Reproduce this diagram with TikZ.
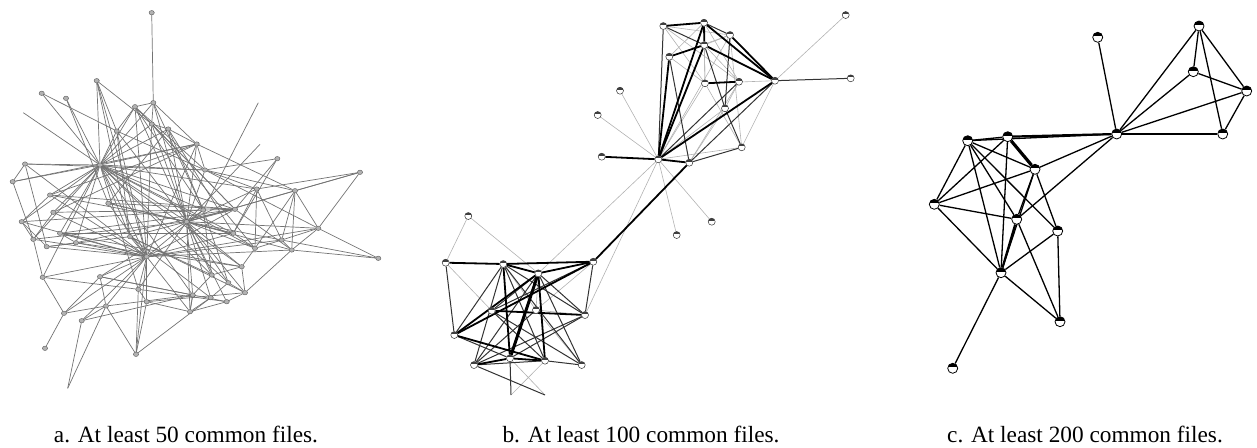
\documentclass[tikz,border=0pt]{standalone}
\usepackage{fontspec}
\setmainfont{Liberation Serif}
\pgfdeclarelayer{bg}
\pgfsetlayers{bg,main}
\tikzset{
  anode/.style={ellipse,inner sep=0pt,minimum width=5.2pt,minimum height=4.4pt,fill=gray!60,draw=black!65,line width=0.4pt},
  bnode/.style={circle,inner sep=0pt,minimum size=7pt,fill=white,draw=black!80,line width=0.5pt,
    path picture={\fill[black!75] (path picture bounding box.north west) rectangle ([yshift=1pt]path picture bounding box.east);}},
  cnode/.style={circle,inner sep=0pt,minimum size=10pt,fill=white,draw=black,line width=0.8pt,
    path picture={\fill[black] (path picture bounding box.north west) rectangle ([yshift=1.2pt]path picture bounding box.east);}},
  aedge/.style={draw=black!55,line width=0.7pt},
  bthin/.style={draw=gray!60,line width=0.6pt},
  bmed/.style={draw=black!80,line width=1pt},
  bthick/.style={draw=black,line width=1.8pt},
  cedge/.style={draw=black,line width=1.3pt},
  caption/.style={font=\fontsize{23.3}{28}\selectfont,anchor=base,inner sep=0pt}
}
\usetikzlibrary{shapes.geometric}
\begin{document}
\begin{tikzpicture}[x=1pt,y=-1pt]
\useasboundingbox (0,0) rectangle (1257,447);
% ---------------- panel a ----------------
\foreach \n/\x/\y in {a1/151.7/12.7,a2/96.7/80.7,a3/41.7/93.3,a4/66/98.3,a5/153.3/102.7,a6/135/106.7,
 a7/116.7/131,a8/151.7/124,a9/168.3/129,a10/196.7/144,a11/277.3/158.7,a12/360/172.3,a13/25/164,
 a14/12.7/181.7,a15/100/165,a16/205/170,a17/256.7/189,a18/295/190.7,a19/50/195,a20/108.3/203.3,
 a21/53.3/212.3,a22/21.7/221.7,a23/186.7/221.7,a24/203.3/210,a25/235/209.3,a26/318.3/228.3,
 a27/60/233.3,a28/33.3/239.3,a29/46.7/246.7,a30/76/242.7,a31/130/236.7,a32/281.7/240,a33/233.3/233.3,
 a34/146.7/256.7,a35/255/248.3,a36/291.7/250,a37/378.3/258.3,a38/241.7/266.7,a39/42.7/277.3,
 a40/100/276.7,a41/211.7/275,a42/228.3/282.7,a43/138.3/289.3,a44/192.7/295,a45/210.7/297.7,
 a46/226.7/301.7,a47/245/292.7,a48/146.7/301.7,a49/106/306,a50/64/313.3,a51/81.7/320.7,
 a52/190/311.7,a53/45/348.3,a54/136/354.3}
  \node[anode] (\n) at (\x,\y) {};
\coordinate (f1) at (23.3,112.7);
\coordinate (f2) at (258.3,102.7);
\coordinate (f3) at (260,144.3);
\coordinate (f4) at (67.7,388.3);
\begin{pgfonlayer}{bg}
\foreach \v in {a2,a3,a4,f1,a5,a6,a7,a8,a9,a10,a13,a14,a16,a17,a19,a21,a22,a23,a24,a25,a27,a28,a30,a31,a33,a34,a35,a38,a39,a41,a43,a44,a42}
  \draw[aedge] (a15) -- (\v);
\foreach \v in {a5,a6,a7,a8,a9,a10,a16,a17,f3,a18,a19,a20,a24,a25,a26,a31,a32,a33,a35,a36,a38,a40,a41,a42,a43,a44,a45,a46,a47,a52,a12,a28}
  \draw[aedge] (a23) -- (\v);
\foreach \v in {a6,a7,a8,a10,a13,a19,a20,a21,a22,a24,a25,a26,a27,a28,a29,a30,a31,a32,a33,a36,a39,a40,a43,a48,a49,a50,a51,a52,a54,a2}
  \draw[aedge] (a34) -- (\v);
\foreach \u/\v in {a1/a5,a5/a6,a5/a8,a6/a7,a8/a9,a9/a10,a10/a16,a16/a17,a16/a26,a16/a18,a18/a12,a18/a26,
  a18/a36,a18/a32,a26/a37,a36/a37,a13/a14,a14/a28,a22/a28,a22/a29,a28/a39,a39/a50,a50/a53,a29/a30,
  a27/a30,a50/a49,a51/f4,a49/f4,a49/a54,a43/a54,a48/a54,a48/a52,a52/a46,a46/a47,a47/a36,a44/a41,
  a45/a42,a38/a35,a35/a32,a32/a36,a33/a35,a38/a47,a41/a38,a42/a47,a24/a25,a25/a11,f2/a24,a2/a31,
  a2/a7,a4/a20,a13/a16,a14/a10,a19/a10,a21/a10,a27/a25,a40/a49,a7/a31,a9/a24,a6/a24,a8/a25,a5/a10,
  a17/a33,a17/a32,a24/a41,a24/a42,a25/a36,a31/a41,a20/a33,a30/a38,a40/a44,a39/a43,a29/a31,a21/a28,
  a19/a22,a13/a29,a50/a40,a51/a49,a52/a44,a43/a48,a44/a52,a45/a52,a20/a9,a31/a47,a27/a38,a3/a7,
  a16/a11,a10/a18,a12/a17,a2/a8,a6/a25,a7/a16,a8/a35,a9/a33,a5/a24,a6/a16,a20/a25,a21/a24,a19/a25,
  a22/a24,a27/a33,a30/a25,a31/a45,a40/a46,a43/a46,a48/a47,a49/a44,a51/a44,a54/a45,a12/a26,a11/a33,
  a17/a35,a18/a35,a26/a32,a26/a36,a37/a32}
  \draw[aedge] (\u) -- (\v);
\end{pgfonlayer}
% ---------------- panel b ----------------
\foreach \n/\x/\y in {b1/663.3/26,b2/704/22.7,b3/730/35,b4/704.3/45,b5/669.3/56.7,b6/705/83.3,
 b7/739/81.7,b8/775/80.7,b9/845.7/15,b10/850.7/78.3,b11/725/108.3,b12/741.7/147.3,b13/658.3/159.3,
 b14/689.3/162.7,b15/620/90.7,b16/597.7/115,b17/601.7/156.7,b18/711.7/221.7,b19/676.7/235,
 d1/468.3/216,d2/445.7/262.7,d3/503.3/264,d4/593.3/261.7,d5/538.3/273.3,d6/491.7/310.7,d7/536/310,
 d8/585/315,d9/454.3/335,d10/474/365,d11/510/358.3,d12/545/360.7,d13/581.7/365}
  \node[bnode] (\n) at (\x,\y) {};
\coordinate (d14) at (511,395);
\coordinate (d15) at (545,395);
\begin{pgfonlayer}{bg}
\foreach \u/\v in {b1/b3,b1/b6,b1/b7,b2/b5,b2/b6,b2/b7,b3/b4,b3/b5,b3/b13,b3/b12,b4/b6,b4/b7,b5/b6,
  b6/b8,b6/b12,b7/b11,b8/b9,b11/b13,b11/b14,b13/b15,b13/b16,b13/b18,b13/b19,b13/d5,b13/d8,b8/b12,
  b6/b13,b7/b14,b12/b13,d1/d2,d1/d5,d2/d6,d11/d15,d12/d14,d3/d7,d7/d8,d4/d7,d5/d7,d7/d13}
  \draw[bthin] (\u) -- (\v);
\foreach \u/\v in {b1/b13,b1/b4,b2/b3,b5/b14,b8/b10,b8/b14,b11/b12,b4/b11,b3/b11,b12/b14,b13/b7,
  d2/d9,d3/d9,d3/d10,d3/d12,d3/d13,d5/d10,d5/d6,d5/d8,d5/d13,d4/d6,d4/d8,d6/d12,d6/d13,d7/d10,
  d8/d10,d8/d11,d9/d11,d12/d13,d11/d14,d10/d12,d3/d8,d10/d15}
  \draw[bmed] (\u) -- (\v);
\foreach \u/\v in {b1/b2,b2/b4,b2/b8,b2/b13,b3/b8,b4/b5,b4/b8,b4/b13,b5/b13,b6/b7,b8/b13,b13/b17,
  b13/b14,b14/d4,d2/d3,d3/d4,d3/d5,d5/d4,d5/d12,d5/d9,d4/d9,d6/d8,d9/d12,d10/d11,d11/d12,d3/d11}
  \draw[bthick] (\u) -- (\v);
\draw[black,line width=3pt] (d5) -- (d11);
\end{pgfonlayer}
% ---------------- panel c ----------------
\foreach \n/\x/\y in {c1/1097.7/37.3,c2/1199/26,c3/1193.3/71.7,c4/1246.7/91,c5/1116.7/134,c6/1222.7/134,
 c7/967.7/140.7,c8/1007.7/136.7,c9/1035/169.3,c10/934.3/204.3,c11/1016.7/219.3,c12/1057.7/231,
 c13/1001/272.7,c14/1060/321.7,c15/952.7/368.3}
  \node[cnode] (\n) at (\x,\y) {};
\begin{pgfonlayer}{bg}
\foreach \u/\v in {c1/c5,c2/c5,c2/c3,c2/c4,c2/c6,c3/c5,c3/c4,c4/c5,c4/c6,c5/c6,c7/c8,c7/c5,c7/c10,
  c7/c9,c7/c11,c7/c12,c7/c13,c8/c10,c8/c13,c9/c10,c9/c11,c9/c13,c9/c12,c9/c5,c10/c11,c10/c13,c11/c5,
  c11/c14,c12/c13,c12/c14,c13/c14,c13/c15}
  \draw[cedge] (\u) -- (\v);
\draw[black,line width=2.2pt] (c8) -- (c5);
\draw[black,line width=3.2pt] (c8) -- (c9);
\draw[black,line width=2.2pt] (c11) -- (c13);
\end{pgfonlayer}
% ---------------- captions ----------------
\node[caption] (capa) at (186,442) {a. At least 50 common files.};
\node[caption] (capb) at (641,442) {b. At least 100 common files.};
\node[caption] (capc) at (1085,442) {c. At least 200 common files.};
\end{tikzpicture}
\end{document}
